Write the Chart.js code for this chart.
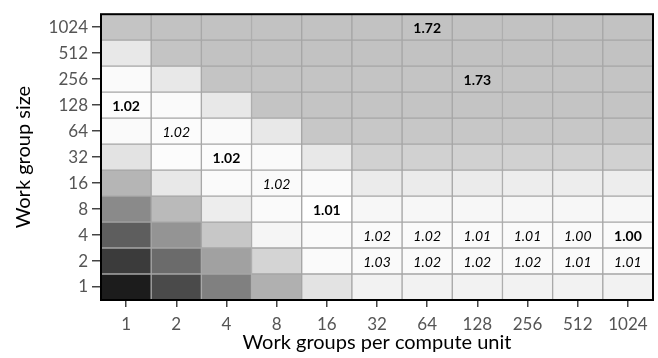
<!DOCTYPE html>
<html>
<head>
<meta charset="utf-8">
<script src="https://cdn.jsdelivr.net/npm/chart.js@4.4.1/dist/chart.umd.min.js"></script>
<style>
  html, body { margin: 0; padding: 0; background: #fff; }
  #wrap { width: 658px; height: 358px; }
</style>
</head>
<body>
<div id="wrap"><canvas id="heat"></canvas></div>
<script>
// x: work groups per compute unit, y: work group size (bottom row first)
var xLabels = ["1", "2", "4", "8", "16", "32", "64", "128", "256", "512", "1024"];
var yLabels = ["1", "2", "4", "8", "16", "32", "64", "128", "256", "512", "1024"];

// cell brightness, 0 = black, 1 = white (row 1 first)
var row1    = [0.11, 0.29, 0.50, 0.69, 0.89, 0.95, 0.95, 0.95, 0.95, 0.95, 0.95];
var row2    = [0.23, 0.42, 0.63, 0.83, 0.98, 0.98, 0.98, 0.98, 0.98, 0.98, 0.98];
var row4    = [0.37, 0.58, 0.78, 0.96, 0.98, 0.98, 0.98, 0.98, 0.98, 0.98, 0.98];
var row8    = [0.54, 0.73, 0.93, 0.98, 1.00, 0.97, 0.97, 0.97, 0.97, 0.97, 0.97];
var row16   = [0.71, 0.91, 0.98, 0.98, 0.98, 0.92, 0.92, 0.92, 0.93, 0.93, 0.93];
var row32   = [0.89, 0.99, 0.99, 0.98, 0.91, 0.82, 0.82, 0.82, 0.82, 0.82, 0.82];
var row64   = [0.98, 0.99, 0.98, 0.91, 0.78, 0.78, 0.78, 0.78, 0.78, 0.78, 0.78];
var row128  = [0.99, 0.98, 0.91, 0.77, 0.77, 0.77, 0.77, 0.77, 0.77, 0.77, 0.77];
var row256  = [0.98, 0.91, 0.77, 0.77, 0.77, 0.77, 0.77, 0.77, 0.77, 0.77, 0.77];
var row512  = [0.91, 0.77, 0.76, 0.76, 0.76, 0.76, 0.76, 0.76, 0.76, 0.76, 0.76];
var row1024 = [0.77, 0.76, 0.76, 0.76, 0.76, 0.76, 0.76, 0.76, 0.76, 0.76, 0.76];
var cellValues = [row1, row2, row4, row8, row16, row32, row64, row128, row256, row512, row1024];

// numbers printed in cells ("" = none), bold marks the best ones
var text1    = ["", "", "", "", "", "", "", "", "", "", ""];
var text2    = ["", "", "", "", "", "1.03", "1.02", "1.02", "1.02", "1.01", "1.01"];
var text4    = ["", "", "", "", "", "1.02", "1.02", "1.01", "1.01", "1.00", "1.00"];
var text8    = ["", "", "", "", "1.01", "", "", "", "", "", ""];
var text16   = ["", "", "", "1.02", "", "", "", "", "", "", ""];
var text32   = ["", "", "1.02", "", "", "", "", "", "", "", ""];
var text64   = ["", "1.02", "", "", "", "", "", "", "", "", ""];
var text128  = ["1.02", "", "", "", "", "", "", "", "", "", ""];
var text256  = ["", "", "", "", "", "", "", "1.73", "", "", ""];
var text512  = ["", "", "", "", "", "", "", "", "", "", ""];
var text1024 = ["", "", "", "", "", "", "1.72", "", "", "", ""];
var cellText = [text1, text2, text4, text8, text16, text32, text64, text128, text256, text512, text1024];

// "row,col" of the bold numbers
var boldCells = ["2,10", "3,4", "5,2", "7,0", "8,7", "10,6"];

var FONT = "Lato, 'Noto Sans', sans-serif";

function gray(v) {
  var g = Math.round(255 * v);
  return "rgb(" + g + "," + g + "," + g + ")";
}

var datasets = cellValues.map(function (row, r) {
  return {
    label: yLabels[r],
    data: row.map(function () { return 1; }),
    backgroundColor: row.map(gray),
    borderColor: "#a6a6a6",
    borderWidth: 1,
    borderSkipped: false,
    barPercentage: 1,
    categoryPercentage: 1
  };
});

var cellTextPlugin = {
  id: "cellText",
  afterDatasetsDraw: function (chart) {
    var ctx = chart.ctx;
    ctx.save();
    ctx.textAlign = "center";
    ctx.textBaseline = "middle";
    ctx.fillStyle = "#000";
    cellText.forEach(function (row, r) {
      var meta = chart.getDatasetMeta(r);
      row.forEach(function (t, c) {
        if (!t) return;
        var bar = meta.data[c].getProps(["x", "y", "base"], true);
        var bold = boldCells.indexOf(r + "," + c) >= 0;
        ctx.font = (bold ? "bold " : "italic ") + "14px " + FONT;
        ctx.fillText(t, bar.x, (bar.y + bar.base) / 2 + 1);
      });
    });
    ctx.restore();
  }
};

var frameP = {
  id: "frame",
  afterDraw: function (chart) {
    var a = chart.chartArea, ctx = chart.ctx;
    ctx.save();
    ctx.strokeStyle = "#000";
    ctx.lineWidth = 2;
    ctx.strokeRect(a.left, a.top, a.right - a.left, a.bottom - a.top);
    ctx.restore();
  }
};

new Chart(document.getElementById("heat"), {
  type: "bar",
  data: { labels: xLabels, datasets: datasets },
  plugins: [cellTextPlugin, frameP],
  options: {
    responsive: true,
    maintainAspectRatio: false,
    animation: false,
    layout: { padding: { top: 6, right: 5, left: 0, bottom: 0 } },
    plugins: { legend: { display: false }, tooltip: { enabled: false } },
    scales: {
      x: {
        stacked: true,
        grid: { offset: false, drawOnChartArea: false, drawTicks: true, tickLength: 7, tickColor: "#444", lineWidth: 1.5 },
        border: { display: false },
        ticks: { color: "#555", padding: 7, font: { family: FONT, size: 17 }, maxRotation: 0 },
        title: { display: true, text: "Work groups per compute unit", color: "#000", font: { family: FONT, size: 20 }, padding: { top: 0, bottom: 3 } },
        afterFit: function (s) { s.height = 58; }
      },
      y: {
        stacked: true,
        min: 0,
        max: 11,
        afterBuildTicks: function (s) {
          s.ticks = yLabels.map(function (l, i) { return { value: i + 0.5 }; });
        },
        grid: { drawOnChartArea: false, drawTicks: true, tickLength: 9, tickColor: "#444", lineWidth: 1.5 },
        border: { display: false },
        ticks: {
          color: "#555", padding: 4, font: { family: FONT, size: 17 },
          callback: function (v, i) { return yLabels[i]; }
        },
        title: { display: true, text: "Work group size", color: "#000", font: { family: FONT, size: 20 }, padding: { top: 12, bottom: 0 } },
        afterFit: function (s) { s.width = 101; }
      }
    }
  }
});
</script>
</body>
</html>
